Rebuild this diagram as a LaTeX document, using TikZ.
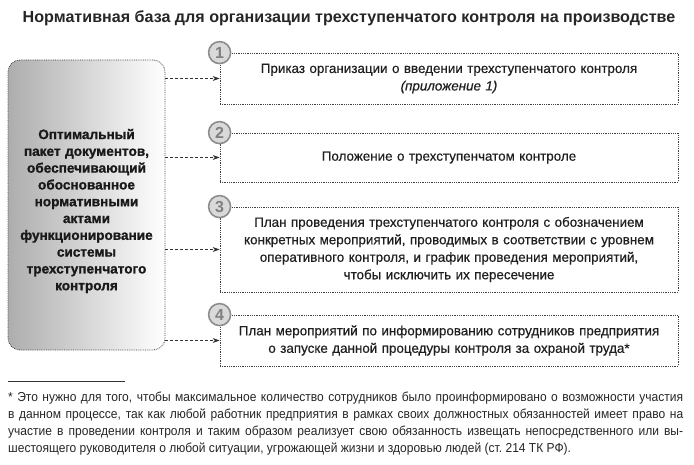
\documentclass[tikz,border=0pt]{standalone}
\usepackage{fontspec}
\setmainfont{Liberation Sans}
\newfontfamily\narrowfont[FakeStretch=0.925]{Liberation Sans}
\newfontfamily\boxfont[FakeBold=0.4]{Liberation Sans}
\newfontfamily\heavyfont[FakeBold=1.2]{Liberation Sans Bold}
\usetikzlibrary{arrows.meta,shapes.geometric}
\tikzset{
  dotbox/.style={draw=black!75, densely dotted, line width=0.8pt},
  stepbox/.style={dotbox, minimum width=458pt, inner sep=0pt, text width=456pt, align=center, font=\boxfont\fontsize{13.4}{17.5}\selectfont, text=black!88},
  numcirc/.style={circle, draw=black!45, line width=1.6pt, fill=black!15, minimum size=22pt, inner sep=0pt, font=\fontsize{16}{16}\selectfont\bfseries, text=black!50},
  conn/.style={draw=black!80, densely dashed, line width=0.8pt, -{Stealth[length=7pt,width=5pt]}},
}
\begin{document}
\begin{tikzpicture}[x=1pt,y=-1pt]
\useasboundingbox (0,0) rectangle (694,465);
\fill[white] (0,0) rectangle (694,465);
\node[font=\fontsize{16.1}{16.1}\selectfont\bfseries, text=black!85] (title) at (349,18) {Нормативная база для организации трехступенчатого контроля на производстве};
\node[dotbox, rounded corners=12pt, left color=black!32, middle color=black!9, right color=white, minimum width=157pt, minimum height=290pt, inner sep=0pt] (lb) at (86.5,205) {};
\node[inner sep=0pt, text width=156pt, align=center, font=\heavyfont\fontsize{13.6}{16.8}\selectfont, text=black!90] (lbt) at (86.5,211)
  {Оптимальный\\ пакет документов,\\ обеспечивающий\\ обоснованное\\ нормативными\\ актами\\ функционирование\\ системы\\ трехступенчатого\\ контроля};
\node[stepbox, minimum height=51pt] (b1) at (449,78.5) {Приказ организации о введении трехступенчатого контроля\\ \textit{(приложение 1)}};
\node[stepbox, minimum height=49pt] (b2) at (449,157.5) {Положение о трехступенчатом контроле};
\node[stepbox, minimum height=85pt] (b3) at (449,249.5) {План проведения трехступенчатого контроля с обозначением\\ конкретных мероприятий, проводимых в соответствии с уровнем\\ оперативного контроля, и график проведения мероприятий,\\ чтобы исключить их пересечение};
\node[stepbox, minimum height=51pt] (b4) at (449,340.5) {План мероприятий по информированию сотрудников предприятия\\ о запуске данной процедуры контроля за охраной труда*};
\node[numcirc] (n1) at (b1.north west) {1};
\node[numcirc] (n2) at (b2.north west) {2};
\node[numcirc] (n3) at (b3.north west) {3};
\node[numcirc] (n4) at (b4.north west) {4};
\foreach \b in {b1,b2,b3,b4}{
  \draw[conn] (lb.east |- \b.west) -- (\b.west);
}
\coordinate (r1) at (8,381);
\coordinate (r2) at (125,381);
\draw[black!80, line width=1pt] (r1) -- (r2);
\node[anchor=north west, inner sep=0pt, text width=675pt, align=justify, font=\narrowfont\fontsize{13}{17}\selectfont, text=black!85] (fn) at (8,392)
  {* Это нужно для того, чтобы максимальное количество сотрудников было проинформировано о~возможности участия\linebreak
   в данном процессе, так как любой работник предприятия в рамках своих должностных обязанностей имеет право на\linebreak
   участие в проведении контроля и таким образом реализует свою обязанность извещать непосредственного или вы-\linebreak
   шестоящего руководителя о любой ситуации, угрожающей жизни и здоровью людей (ст.~214 ТК РФ).\par};
\end{tikzpicture}
\end{document}
